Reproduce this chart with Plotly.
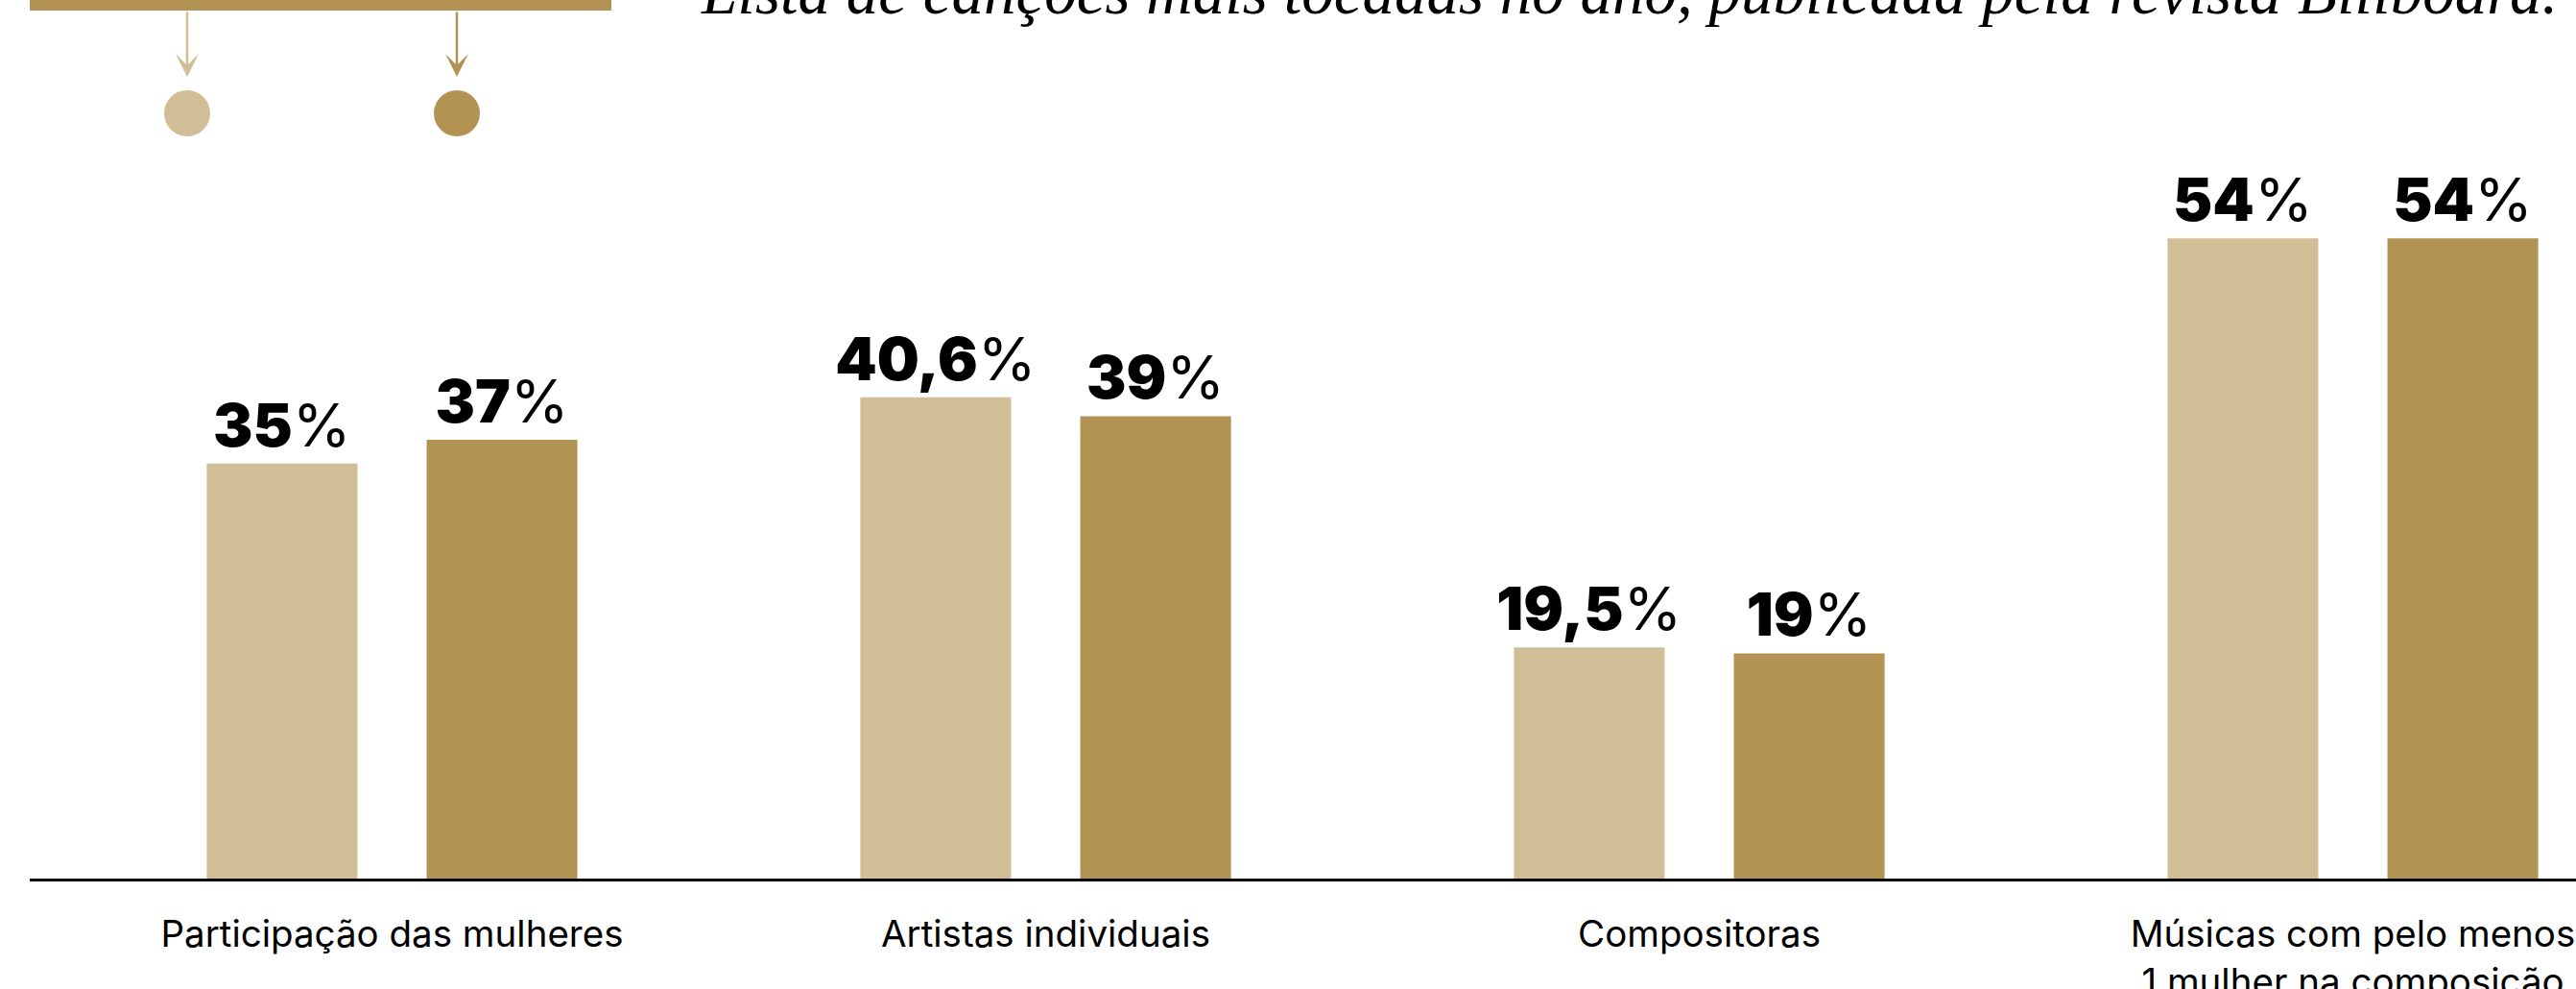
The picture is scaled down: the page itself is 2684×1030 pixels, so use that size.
import plotly.graph_objects as go

# ---- data ----
categories = [
    "Participação das mulheres",
    "Artistas individuais",
    "Compositoras",
    "Músicas com pelo menos<br>1 mulher na composição",
]
series_a_values = [35, 40.6, 19.5, 54]
series_b_values = [37, 39, 19, 54]
series_a_labels = ["35", "40,6", "19,5", "54"]
series_b_labels = ["37", "39", "19", "54"]
title_text = "Lista de canções mais tocadas no ano, publicada pela revista Billboard."

# ---- style ----
W, H = 2684, 1030
ML, MR, MT = 31, 0, 0
AXIS_Y = 915
MB = H - AXIS_Y
PW, PH = W - ML - MR, AXIS_Y - MT
LIGHT = "#D0BE97"
DARK = "#B39353"


def px2x(px):
    return (px - ML) / PW


def py2y(py):
    return (AXIS_Y - py) / PH


def lab(nums):
    return ['<span style="font-weight:900">%s</span>%%' % n for n in nums]


label_font = dict(family="Inter", size=62, color="black", weight=400)

fig = go.Figure()
for vals, labs, col in [(series_a_values, series_a_labels, LIGHT),
                        (series_b_values, series_b_labels, DARK)]:
    fig.add_trace(go.Bar(
        x=categories, y=vals, marker_color=col, marker_line_width=0,
        text=lab(labs), textposition="outside", textfont=label_font,
        constraintext="none", cliponaxis=False, hoverinfo="skip",
    ))

# legend decoration (top-left)
shapes = [
    dict(type="rect", xref="paper", yref="paper", x0=px2x(31), x1=px2x(637),
         y0=py2y(11), y1=py2y(-2), fillcolor=DARK, line_width=0, layer="above"),
]
annotations = []
for cx, col in [(195, LIGHT), (476, DARK)]:
    shapes.append(dict(type="circle", xref="paper", yref="paper",
                       x0=px2x(cx - 24), x1=px2x(cx + 24),
                       y0=py2y(142), y1=py2y(94),
                       fillcolor=col, line_width=0))
    annotations.append(dict(xref="paper", yref="paper", x=px2x(cx), y=py2y(80),
                            ax=0, ay=-69, text="", showarrow=True,
                            arrowhead=3, arrowwidth=2.5, arrowsize=1.6,
                            arrowcolor=col))

annotations.append(dict(
    xref="paper", yref="paper", x=px2x(728), y=py2y(30),
    xanchor="left", yanchor="bottom", showarrow=False, text=title_text,
    font=dict(family="Liberation Serif", size=67, color="black", style="italic"),
))

fig.update_layout(
    width=W, height=H,
    margin=dict(l=ML, r=MR, t=MT, b=MB, pad=0, autoexpand=False),
    paper_bgcolor="white", plot_bgcolor="white",
    barmode="group", bargap=0.327, bargroupgap=0.3146,
    showlegend=False,
    shapes=shapes, annotations=annotations,
    xaxis=dict(range=[-0.5543, 3.3414], showline=True, linecolor="black",
               linewidth=3, showgrid=False, zeroline=False, ticks="",
               automargin=False,
               tickfont=dict(family="Inter", size=38.5, color="black"),
               ticklabelstandoff=22),
    yaxis=dict(range=[0, 74.1], visible=False, showgrid=False, zeroline=False,
               automargin=False),
)

fig.write_html("out.html")
